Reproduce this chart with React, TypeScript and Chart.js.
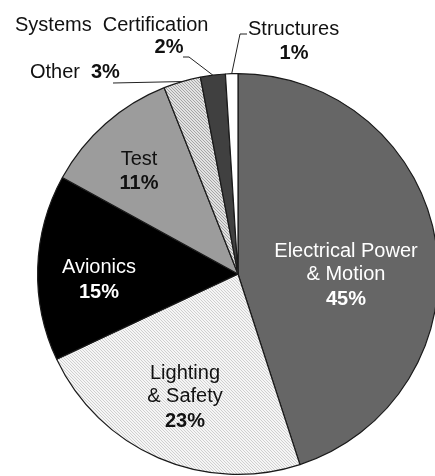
import React, { useEffect, useRef } from "react";
import { Chart, registerables } from "chart.js";
Chart.register(...registerables);

// ---- data ----
const categories = [
  "Electrical Power & Motion",
  "Lighting & Safety",
  "Avionics",
  "Test",
  "Other",
  "Systems Certification",
  "Structures",
];
const shares = [45, 23, 15, 11, 3, 2, 1];
const percentLabels = ["45%", "23%", "15%", "11%", "3%", "2%", "1%"];
const nameLines = [
  ["Electrical Power", "& Motion"],
  ["Lighting", "& Safety"],
  ["Avionics"],
  ["Test"],
  ["Other"],
  ["Systems  Certification"],
  ["Structures"],
];

// ---- styles / layout ----
const FONT = '"Liberation Sans", Arial, Helvetica, sans-serif';
const W = 480;
const H = 476;

function hatch(n: number, bg: [number, number, number], fg: [number, number, number]) {
  const c = document.createElement("canvas");
  c.width = n;
  c.height = n;
  const ctx = c.getContext("2d")!;
  const img = ctx.createImageData(n, n);
  for (let y = 0; y < n; y++) {
    for (let x = 0; x < n; x++) {
      const on = ((x - y) % n + n) % n === 0;
      const col = on ? fg : bg;
      const k = (y * n + x) * 4;
      img.data[k] = col[0];
      img.data[k + 1] = col[1];
      img.data[k + 2] = col[2];
      img.data[k + 3] = 255;
    }
  }
  ctx.putImageData(img, 0, 0);
  return ctx.createPattern(c, "repeat")!;
}

// inside labels: offsets from pie centre (dx, baseline dy per line)
const inside: Record<number, { dx: number; dy: number[]; color: string }> = {
  0: { dx: 108, dy: [-17, 6, 31], color: "#ffffff" },
  1: { dx: -53, dy: [105, 128, 153], color: "#111111" },
  2: { dx: -139, dy: [-1, 24], color: "#ffffff" },
  3: { dx: -99, dy: [-109, -85], color: "#111111" },
};

const labelPlugin = {
  id: "pieLabels",
  afterDatasetsDraw(chart: any) {
    const ctx = chart.ctx as CanvasRenderingContext2D;
    const meta = chart.getDatasetMeta(0);
    const a0 = meta.data[0] as any;
    const cx = a0.x;
    const cy = a0.y;
    const edge = (i: number) => {
      const a = meta.data[i] as any;
      const mid = (a.startAngle + a.endAngle) / 2;
      return { x: a.x + Math.cos(mid) * a.outerRadius, y: a.y + Math.sin(mid) * a.outerRadius };
    };
    ctx.save();
    ctx.textBaseline = "alphabetic";
    Object.keys(inside).forEach((k) => {
      const i = Number(k);
      const cfg = inside[i];
      ctx.fillStyle = cfg.color;
      ctx.textAlign = "center";
      const lines = nameLines[i];
      lines.forEach((t, j) => {
        ctx.font = `20px ${FONT}`;
        ctx.fillText(t, cx + cfg.dx, cy + cfg.dy[j]);
      });
      ctx.font = `bold 20px ${FONT}`;
      ctx.fillText(percentLabels[i], cx + cfg.dx, cy + cfg.dy[lines.length]);
    });

    ctx.fillStyle = "#111111";
    ctx.strokeStyle = "#222222";
    ctx.lineWidth = 1;

    // Other
    ctx.textAlign = "left";
    ctx.font = `20px ${FONT}`;
    ctx.fillText(nameLines[4][0], cx - 208, cy - 196);
    ctx.font = `bold 20px ${FONT}`;
    ctx.fillText(percentLabels[4], cx - 147, cy - 196);
    let e = edge(4);
    ctx.beginPath();
    ctx.moveTo(cx - 125, cy - 191);
    ctx.lineTo(e.x, e.y);
    ctx.stroke();

    // Systems Certification
    ctx.textAlign = "left";
    ctx.font = `20px ${FONT}`;
    ctx.fillText(nameLines[5][0], cx - 223, cy - 243);
    ctx.textAlign = "center";
    ctx.font = `bold 20px ${FONT}`;
    ctx.fillText(percentLabels[5], cx - 69, cy - 221);
    e = edge(5);
    ctx.beginPath();
    ctx.moveTo(cx - 55, cy - 217);
    ctx.lineTo(cx - 49, cy - 217);
    ctx.lineTo(e.x, e.y);
    ctx.stroke();

    // Structures
    ctx.textAlign = "left";
    ctx.font = `20px ${FONT}`;
    ctx.fillText(nameLines[6][0], cx + 10, cy - 239);
    ctx.textAlign = "center";
    ctx.font = `bold 20px ${FONT}`;
    ctx.fillText(percentLabels[6], cx + 56, cy - 215);
    e = edge(6);
    ctx.beginPath();
    ctx.moveTo(cx + 9, cy - 240);
    ctx.lineTo(cx + 2, cy - 240);
    ctx.lineTo(e.x, e.y);
    ctx.stroke();

    ctx.restore();
  },
};

export default function App() {
  const ref = useRef<HTMLCanvasElement>(null);
  useEffect(() => {
    document.body.style.margin = "0";
    const colors: any[] = [
      "#666666",
      hatch(3, [246, 246, 246], [208, 208, 208]),
      "#000000",
      "#9c9c9c",
      hatch(3, [226, 226, 226], [165, 165, 165]),
      "#404040",
      "#ffffff",
    ];
    const chart = new Chart(ref.current!, {
      type: "pie",
      data: {
        labels: categories,
        datasets: [
          {
            data: shares,
            backgroundColor: colors,
            borderColor: "#1a1a1a",
            borderWidth: 1.2,
          },
        ],
      },
      options: {
        responsive: false,
        animation: false,
        events: [],
        layout: { padding: { left: 37, right: W - 439, top: 73, bottom: H - 475 } },
        plugins: { legend: { display: false }, tooltip: { enabled: false } },
      },
      plugins: [labelPlugin],
    });
    return () => chart.destroy();
  }, []);
  return (
    <div style={{ width: 435, height: H, overflow: "hidden", position: "relative", background: "#fff" }}>
      <canvas ref={ref} width={W} height={H} style={{ display: "block", width: W, height: H }} />
    </div>
  );
}
